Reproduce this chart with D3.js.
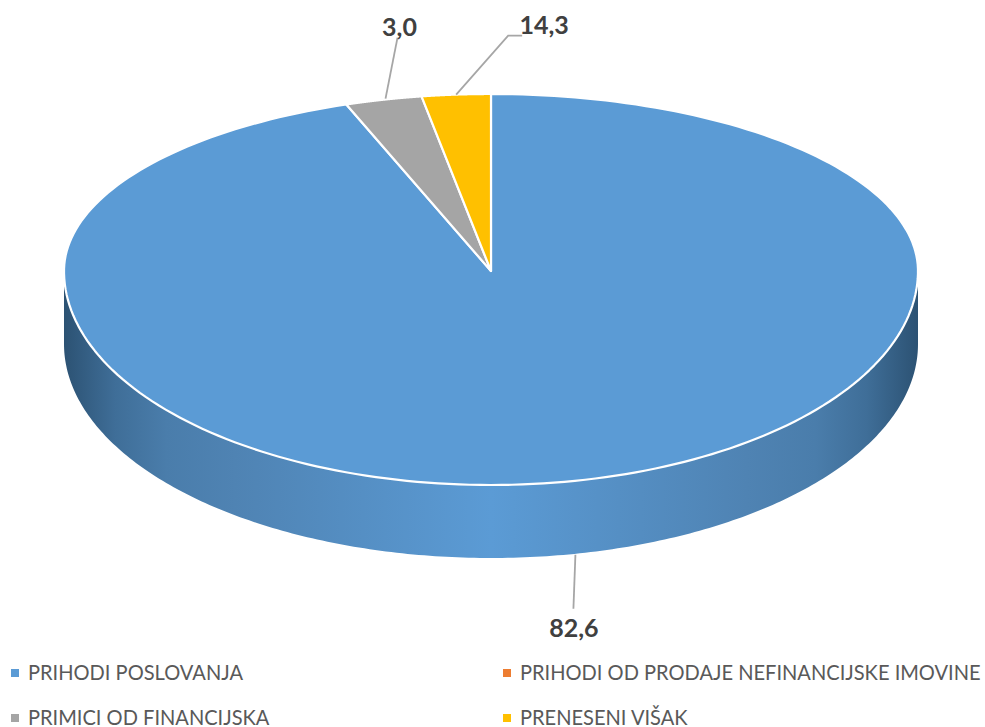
<!DOCTYPE html>
<html>
<head>
<meta charset="utf-8">
<script src="https://cdn.jsdelivr.net/npm/d3@7"></script>
<style>
html, body { margin: 0; padding: 0; background: #fff; }
svg { display: block; }
</style>
</head>
<body>
<div class="canvas"></div>
<script>
const categories = ['PRIHODI POSLOVANJA', 'PRIHODI OD PRODAJE NEFINANCIJSKE IMOVINE', 'PRIMICI OD FINANCIJSKA', 'PRENESENI VIŠAK'];
// slice sizes as drawn in the picture (they do not follow the printed labels)
const sliceShares = [94.5, 0, 2.9, 2.6];
// labels as printed, null = no label shown
const labelTexts = ['82,6', null, '3,0', '14,3'];
const colors = ['#5b9bd5', '#ed7d31', '#a5a5a5', '#ffc000'];

const width = 985;
const height = 727;

const svg = d3.select('.canvas')
	.append('svg')
	.attr('width', width)
	.attr('height', height);

// the tilted pie is egg shaped: upper half flatter than the lower half
const cx = 491;
const cy = 271;
const radiusX = 427;
const radiusUp = 177;
const radiusDown = 214;
const depth = 73;

const x = d3.scaleLinear().domain([-1, 1]).range([cx - radiusX, cx + radiusX]);
const yUp = d3.scaleLinear().domain([-1, 0]).range([cy - radiusUp, cy]);
const yDown = d3.scaleLinear().domain([0, 1]).range([cy, cy + radiusDown]);

// angle is clockwise from the top, in radians
const project = a => {
	const u = Math.sin(a);
	const v = -Math.cos(a);
	return [x(u), v < 0 ? yUp(v) : yDown(v)];
};

const arcPoints = (a0, a1) => d3.range(0, 241).map(i => project(a0 + (a1 - a0) * i / 240));
const line = d3.line();

const pie = d3.pie().sort(null).value(d => d);
const slices = pie(sliceShares);

// side wall gradient
const grad = svg.append('defs').append('linearGradient')
	.attr('id', 'wall')
	.attr('x1', 0).attr('x2', 1).attr('y1', 0).attr('y2', 0);
const wallStops = [[0, '#2c5273'], [0.06, '#3f6e98'], [0.12, '#4a7dab'], [0.2, '#4f83b3'], [0.5, '#5b9bd5'], [0.8, '#4f83b3'], [0.88, '#4a7dab'], [0.94, '#3f6e98'], [1, '#2c5273']];
grad.selectAll('stop')
	.data(wallStops)
	.enter()
	.append('stop')
	.attr('offset', d => d[0])
	.attr('stop-color', d => d[1]);

// side wall: front half of the rim pushed down by depth
const frontRim = arcPoints(Math.PI / 2, Math.PI * 1.5);
const wallPts = frontRim.concat(frontRim.slice().reverse().map(p => [p[0], p[1] + depth]));
svg.append('path')
	.attr('d', line(wallPts) + 'Z')
	.attr('fill', 'url(#wall)');

// top face slices
svg.selectAll('path.slice')
	.data(slices.filter(d => d.value > 0))
	.enter()
	.append('path')
	.attr('class', 'slice')
	.attr('d', d => line([[cx, cy]].concat(arcPoints(d.startAngle, d.endAngle))) + 'Z')
	.attr('fill', d => colors[d.index])
	.attr('stroke', '#fff')
	.attr('stroke-width', 2.2)
	.attr('stroke-linejoin', 'round');

// leader lines and value labels: offset from the slice's rim point
const labelLayout = [
	{ shift: [11, depth], path: [[-2, 54]], text: [-1.5, 73.5] },
	null,
	{ shift: [2, -1], path: [[12, -61]], text: [14, -71.5] },
	{ shift: [0, 0], path: [[52, -59], [66, -59]], text: [88, -69] }
];

slices.forEach((d, i) => {
	if (labelTexts[i] === null) return;
	const lay = labelLayout[i];
	const p = project((d.startAngle + d.endAngle) / 2);
	const start = [p[0] + lay.shift[0], p[1] + lay.shift[1]];
	svg.append('path')
		.attr('d', line([start].concat(lay.path.map(o => [start[0] + o[0], start[1] + o[1]]))))
		.attr('fill', 'none')
		.attr('stroke', '#a6a6a6')
		.attr('stroke-width', 1.8);
	svg.append('text')
		.attr('x', start[0] + lay.text[0])
		.attr('y', start[1] + lay.text[1])
		.attr('dy', '0.35em')
		.attr('text-anchor', 'middle')
		.attr('font-family', 'Lato, sans-serif')
		.attr('font-weight', 700)
		.attr('font-size', 25)
		.attr('fill', '#404040')
		.text(labelTexts[i]);
});

// legend, two columns by two rows
const legendX = d3.scaleOrdinal().domain([0, 1]).range([11, 503]);
const legendY = d3.scaleOrdinal().domain([0, 1]).range([680, 725]);

const legend = svg.selectAll('g.legend')
	.data(categories)
	.enter()
	.append('g')
	.attr('class', 'legend')
	.attr('transform', (d, i) => `translate(${legendX(i % 2)}, ${legendY(Math.floor(i / 2))})`);

legend.append('rect')
	.attr('y', -11)
	.attr('width', 8)
	.attr('height', 8)
	.attr('fill', (d, i) => colors[i]);

// narrowed a bit, the reference font is taller for its width
legend.append('text')
	.attr('transform', 'translate(17, 0) scale(0.912, 1)')
	.attr('font-family', 'Lato, sans-serif')
	.attr('font-size', 22)
	.attr('fill', '#595959')
	.text(d => d);
</script>
</body>
</html>
